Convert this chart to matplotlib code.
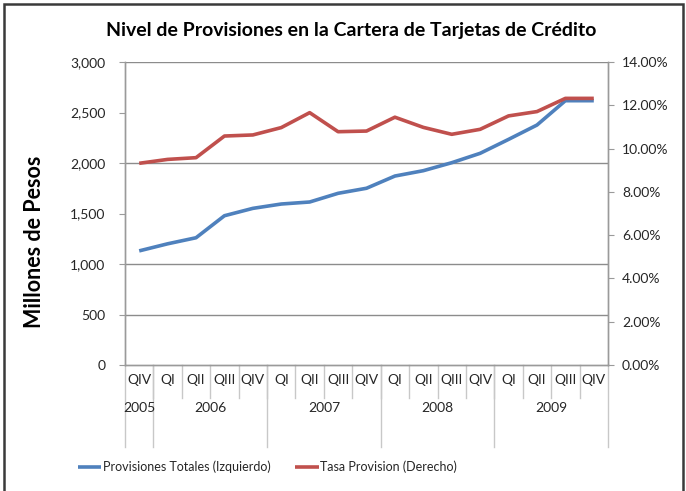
import matplotlib.pyplot as plt
from matplotlib.patches import Rectangle
from matplotlib.ticker import FuncFormatter
import matplotlib.transforms as mtransforms

plt.rcParams['font.family'] = ['Lato', 'DejaVu Sans']

quarters = ['QIV', 'QI', 'QII', 'QIII', 'QIV', 'QI', 'QII', 'QIII', 'QIV',
            'QI', 'QII', 'QIII', 'QIV', 'QI', 'QII', 'QIII', 'QIV']
years = ['2005', '2006', '2007', '2008', '2009']
year_counts = [1, 4, 4, 4, 4]

provisiones = [1130, 1200, 1260, 1478, 1551, 1594, 1614, 1700, 1750,
               1871, 1924, 2003, 2096, 2234, 2376, 2617, 2617]
tasa = [9.32, 9.50, 9.58, 10.58, 10.63, 10.97, 11.66, 10.78, 10.81,
        11.45, 10.98, 10.66, 10.89, 11.51, 11.71, 12.32, 12.32]

grid_levels = [500, 1000, 2000, 3000]

blue = '#4F81BD'
red = '#C0504D'
txt = '#262626'

fig = plt.figure(figsize=(6.86, 4.91), dpi=100)
ax = fig.add_axes([0.1822, 0.2566, 0.7041, 0.6171])
ax2 = ax.twinx()

x = list(range(len(quarters)))
l1, = ax.plot(x, provisiones, color=blue, lw=2.6, solid_capstyle='butt',
              label='Provisiones Totales (Izquierdo)', zorder=3)
l2, = ax2.plot(x, tasa, color=red, lw=2.6, solid_capstyle='butt',
               label='Tasa Provision (Derecho)', zorder=3)

ax.set_xlim(-0.5, len(quarters) - 0.5)
ax.set_ylim(0, 3000)
ax.set_yticks(range(0, 3001, 500))
ax.yaxis.set_major_formatter(FuncFormatter(lambda v, p: f'{int(v):,}'))
ax2.set_ylim(0, 14)
ax2.set_yticks(range(0, 15, 2))
ax2.yaxis.set_major_formatter(FuncFormatter(lambda v, p: f'{v:.2f}%'))

ax.hlines(grid_levels, -0.5, len(quarters) - 0.5, color='#8c8c8c', lw=1, zorder=1)

for a in (ax, ax2):
    for s in a.spines.values():
        s.set_color('#9a9a9a')
        s.set_linewidth(1)
    a.spines['top'].set_visible(False)
ax.tick_params(axis='y', length=4, color='#9a9a9a', labelsize=10, labelcolor=txt, pad=10)
ax2.tick_params(axis='y', length=4, color='#9a9a9a', labelsize=10, labelcolor=txt, pad=6)
ax.set_xticks([])
ax.set_xticklabels([])

ax.set_ylabel('Millones de Pesos', fontsize=15.5, fontweight='bold', color='black')
ax.yaxis.set_label_coords(-0.166, 0.405)

# category axis with two levels
trans = mtransforms.blended_transform_factory(ax.transData, ax.transAxes)
for i, q in enumerate(quarters):
    ax.text(i, -0.05, q, transform=trans, ha='center', va='center', fontsize=10, color=txt)
for b in range(1, len(quarters)):
    ax.plot([b - 0.5, b - 0.5], [0, -0.11], transform=trans, color='#c8c8c8', lw=1, clip_on=False)

start = -0.5
for yr, n in zip(years, year_counts):
    ax.text(start + n / 2, -0.142, yr, transform=trans, ha='center', va='center', fontsize=10, color=txt)
    ax.plot([start, start], [0, -0.27], transform=trans, color='#c8c8c8', lw=1, clip_on=False)
    start += n
ax.plot([start, start], [0, -0.27], transform=trans, color='#c8c8c8', lw=1, clip_on=False)

fig.text(0.512, 0.938, 'Nivel de Provisiones en la Cartera de Tarjetas de Crédito',
         ha='center', va='center', fontsize=14, fontweight='bold', color='black')

fig.legend(handles=[l1, l2], loc='center', bbox_to_anchor=(0.39, 0.049), ncol=2,
           frameon=False, fontsize=9, handlelength=1.9, handletextpad=0.1,
           columnspacing=2.0, labelcolor=txt)

fig.patches.append(Rectangle((4 / 686, -0.05), 679 / 686, 1.05 - 4 / 491,
                             transform=fig.transFigure, fill=False,
                             edgecolor='#3a3a3a', lw=1.8))

fig.savefig('out.png', dpi=100)
